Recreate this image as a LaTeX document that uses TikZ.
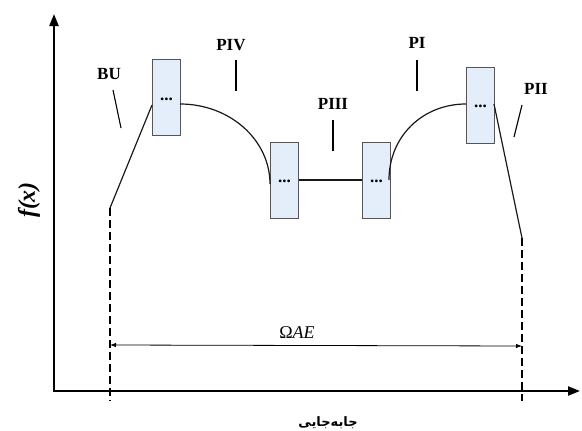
\documentclass[tikz,border=0pt]{standalone}
\usepackage{fontspec}
\setmainfont{Liberation Serif}
\newfontfamily\arabicfont[Script=Arabic]{DejaVu Sans}
\TeXXeTstate=1
\usetikzlibrary{arrows.meta}
\definecolor{boxfill}{HTML}{E3EEFA}
\definecolor{boxdraw}{HTML}{555555}
\begin{document}
\begin{tikzpicture}[x=1pt,y=-1pt,
  slotbox/.style={draw=boxdraw,fill=boxfill,line width=1pt,minimum width=28pt,minimum height=76pt,inner sep=0pt,anchor=north west},
  curve/.style={line width=1.2pt,draw=black!90},
  tick/.style={line width=1.1pt},
  lbl/.style={font=\bfseries\fontsize{17}{17}\selectfont,inner sep=0pt},
  dashline/.style={line width=1.2pt,dash pattern=on 8pt off 4pt},
  axis/.style={line width=2.2pt,-{Triangle[length=12pt,width=9pt]}}]
\useasboundingbox (0,0) rectangle (582,431);
% axes
\coordinate (origin) at (54,391);
\coordinate (ytip) at (54,14);
\coordinate (xtip) at (580,391);
\draw[axis] (origin) -- (ytip);
\draw[axis] ([xshift=-1.1pt]origin) -- (xtip);
% boxes
\node[slotbox] (b1) at (152,59) {};
\node[slotbox] (b2) at (270,142) {};
\node[slotbox] (b3) at (362,142) {};
\node[slotbox] (b4) at (466,67) {};
\foreach \b/\dy in {b1/2,b2/1,b3/1,b4/1}
  \node[font=\bfseries\fontsize{17}{17}\selectfont,inner sep=0pt] (\b dots) at ([yshift=-\dy pt]\b.center) {...};
% attachment points
\coordinate (bu0) at (110,208);
\coordinate (b1l) at (152,105);
\coordinate (b1r) at (180,104);
\coordinate (b2l) at (270,184);
\coordinate (b2r) at (299,180);
\coordinate (b3l) at (362,180);
\coordinate (b3r) at (389,180);
\coordinate (b4l) at (466,104);
\coordinate (b4r) at (494,104);
\coordinate (pii0) at (522,238);
% curve
\draw[curve] (bu0) -- (b1l);
\draw[curve] (b1r) .. controls (230,104) and (270,140) .. (b2l);
\draw[curve] (b2r) -- (b3l);
\draw[curve] (b3r) .. controls (389,136) and (423,104) .. (b4l);
\draw[curve] (b4r) -- (pii0);
% dashed verticals
\coordinate (d1) at (110,401);
\coordinate (d2) at (522,401);
\draw[dashline] (bu0) -- (d1);
\draw[dashline] (pii0) -- (d2);
% Omega AE dimension
\coordinate (oa) at (110,345);
\coordinate (ob) at (522,346);
\draw[line width=0.8pt,{Latex[length=6pt,width=4.5pt]}-{Latex[length=6pt,width=4.5pt]}] (oa) -- (ob);
\node[font=\fontsize{18}{18}\selectfont,inner sep=0pt] (omega) at (297,333) {Ω\textit{AE}};
% labels with ticks
\node[lbl] (bu) at (109,74) {BU};
\draw[tick] (113,90) coordinate (bua) -- (121,128) coordinate (bub);
\node[lbl] (piv) at (231,45) {PIV};
\draw[tick] (236,60) coordinate (piva) -- (236,91) coordinate (pivb);
\node[lbl] (piii) at (333,104) {PIII};
\draw[tick] (333,120) coordinate (piiia) -- (333,151) coordinate (piiib);
\node[lbl] (pi) at (417,43) {PI};
\draw[tick] (417,60) coordinate (pia) -- (417,91) coordinate (pib);
\node[lbl] (pii) at (536,89) {PII};
\draw[tick] (522,105) coordinate (piia) -- (514,137) coordinate (piib);
% axis labels
\node[rotate=90,font=\bfseries\itshape\fontsize{24}{24}\selectfont,inner sep=0pt] (fx) at (29,200) {f(x)};
\node[font=\arabicfont\bfseries\fontsize{13}{13}\selectfont,inner sep=0pt] (xl) at (328,423) {\beginR جابه‌جایی\endR};
\end{tikzpicture}
\end{document}
